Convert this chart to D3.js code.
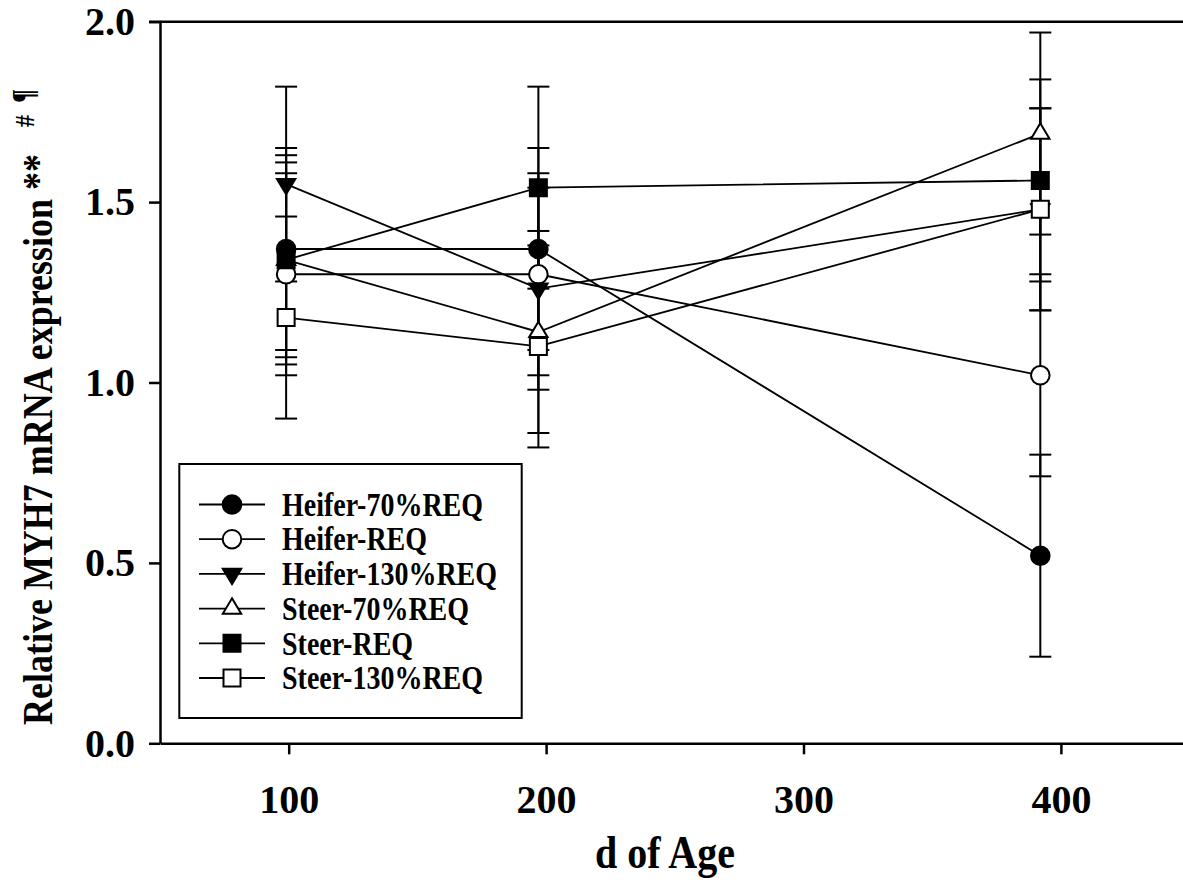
<!DOCTYPE html>
<html>
<head>
<meta charset="utf-8">
<script src="https://cdn.jsdelivr.net/npm/d3@7"></script>
<style>
  html, body { margin: 0; padding: 0; background: #fff; }
  svg { display: block; }
  text { font-family: "Liberation Serif", "Times New Roman", serif; font-weight: bold; fill: #000; }
</style>
</head>
<body>
<svg id="chart" width="1183" height="888"></svg>
<script>
// Age (days) at each sampling point
const ages = [99, 197, 392];

// Series names, in legend order
const seriesNames = ["Heifer-70%REQ", "Heifer-REQ", "Heifer-130%REQ", "Steer-70%REQ", "Steer-REQ", "Steer-130%REQ"];

// Mean relative MYH7 expression per series
const heifer70 = [1.37, 1.37, 0.52];
const heiferREQ = [1.30, 1.30, 1.02];
const heifer130 = [1.55, 1.26, 1.48];
const steer70 = [1.34, 1.14, 1.69];
const steerREQ = [1.34, 1.54, 1.56];
const steer130 = [1.18, 1.10, 1.48];

// Standard errors per series
const heifer70SE = [0.28, 0.28, 0.28];
const heiferREQSE = [0.28, 0.28, 0.28];
const heifer130SE = [0.27, 0.28, 0.28];
const steer70SE = [0.29, 0.28, 0.28];
const steerREQSE = [0.27, 0.28, 0.28];
const steer130SE = [0.28, 0.28, 0.28];

// Axis ticks
const xTicks = [100, 200, 300, 400];
const yTicks = [0, 0.5, 1.0, 1.5, 2.0];

const means = [heifer70, heiferREQ, heifer130, steer70, steerREQ, steer130];
const errors = [heifer70SE, heiferREQSE, heifer130SE, steer70SE, steerREQSE, steer130SE];
const markerShapes = ["circle", "circle", "triangleDown", "triangleUp", "square", "square"];
const markerFilled = [true, false, true, false, true, false];

const series = seriesNames.map((name, i) => ({
  name, shape: markerShapes[i], filled: markerFilled[i],
  points: ages.map((a, j) => ({ age: a, value: means[i][j], se: errors[i][j] }))
}));

// Title and legend glyphs are drawn slightly taller than the stock face
const glyphStretch = 1.18;

const svg = d3.select("#chart");

const x = d3.scaleLinear().domain([50, 450]).range([160, 1189.6]);
const y = d3.scaleLinear().domain([0, 2]).range([743.3, 21.7]);

// Marker path generator, centred on the data point
function markerPath(shape) {
  if (shape === "circle") {
    const r = 9.3;
    return `M${-r},0A${r},${r} 0 1,0 ${r},0A${r},${r} 0 1,0 ${-r},0Z`;
  }
  if (shape === "square") {
    const s = 8.5;
    return `M${-s},${-s}H${s}V${s}H${-s}Z`;
  }
  const w = 9.2, h = 15.4;
  if (shape === "triangleUp") {
    return `M0,${-2 * h / 3}L${w},${h / 3}L${-w},${h / 3}Z`;
  }
  return `M0,${2 * h / 3}L${w},${-h / 3}L${-w},${-h / 3}Z`;
}

function drawMarker(sel, s) {
  sel.append("path")
    .attr("d", markerPath(s.shape))
    .attr("fill", s.filled ? "#000" : "#fff")
    .attr("stroke", "#000")
    .attr("stroke-width", 2);
}

// Frame line along the top
svg.append("line")
  .attr("x1", 149).attr("x2", 1183)
  .attr("y1", y(2)).attr("y2", y(2))
  .attr("stroke", "#000").attr("stroke-width", 2.5);

// Y axis
const yAxis = svg.append("g")
  .attr("transform", `translate(${x(50)},0)`)
  .call(d3.axisLeft(y).tickValues(yTicks).tickFormat(d3.format(".1f")).tickSize(11).tickSizeOuter(0).tickPadding(14));

// X axis
const xAxis = svg.append("g")
  .attr("transform", `translate(0,${y(0)})`)
  .call(d3.axisBottom(x).tickValues(xTicks).tickFormat(d3.format("d")).tickSize(11).tickSizeOuter(0).tickPadding(30));

[yAxis, xAxis].forEach(g => {
  g.select(".domain").attr("stroke", "#000").attr("stroke-width", 2.5);
  g.selectAll(".tick line").attr("stroke", "#000").attr("stroke-width", 2.5);
  g.selectAll(".tick text")
    .style("font-family", '"Liberation Serif", "Times New Roman", serif')
    .style("font-weight", "bold")
    .style("font-size", "40px")
    .attr("fill", "#000");
});

// Error bars
const capHalf = 11;
const errG = svg.append("g");
series.forEach(s => {
  s.points.forEach(p => {
    const cx = x(p.age), top = y(p.value + p.se), bot = y(p.value - p.se);
    errG.append("line").attr("x1", cx).attr("x2", cx).attr("y1", top).attr("y2", bot)
      .attr("stroke", "#000").attr("stroke-width", 2);
    [top, bot].forEach(cy => {
      errG.append("line").attr("x1", cx - capHalf).attr("x2", cx + capHalf).attr("y1", cy).attr("y2", cy)
        .attr("stroke", "#000").attr("stroke-width", 2);
    });
  });
});

// Connecting lines and markers, one series at a time
const line = d3.line().x(d => x(d.age)).y(d => y(d.value));
series.forEach(s => {
  const g = svg.append("g");
  g.append("path").attr("d", line(s.points)).attr("fill", "none")
    .attr("stroke", "#000").attr("stroke-width", 1.8);
  s.points.forEach(p => {
    g.append("g").attr("transform", `translate(${x(p.age)},${y(p.value)})`).call(drawMarker, s);
  });
});

// Legend
const legend = svg.append("g");
legend.append("rect")
  .attr("x", 179.3).attr("y", 464).attr("width", 342.4).attr("height", 254)
  .attr("fill", "#fff").attr("stroke", "#000").attr("stroke-width", 2);
series.forEach((s, i) => {
  const ry = 504.5 + i * 34.7;
  const row = legend.append("g").attr("transform", `translate(0,${ry})`);
  row.append("line").attr("x1", 199).attr("x2", 265).attr("y1", 0).attr("y2", 0)
    .attr("stroke", "#000").attr("stroke-width", 1.8);
  row.append("g").attr("transform", "translate(232,0)").call(drawMarker, s);
  row.append("text")
    .attr("transform", `translate(282,0) scale(1,${glyphStretch})`)
    .attr("dy", "0.34em")
    .style("font-size", "28px").text(s.name);
});

// Axis titles
svg.append("text")
  .attr("transform", `translate(665,868) scale(1,${glyphStretch})`)
  .attr("text-anchor", "middle")
  .style("font-size", "40px")
  .text("d of Age");

const yTitle = svg.append("text")
  .attr("transform", `translate(52,725) rotate(-90) scale(1,${glyphStretch})`)
  .attr("text-anchor", "start")
  .style("font-size", "36px");
yTitle.append("tspan").text("Relative MYH7 mRNA expression ");
yTitle.append("tspan").text("**");
yTitle.append("tspan").attr("dx", 27).attr("dy", -15).style("font-size", "24px").text("#");
yTitle.append("tspan").attr("dx", 12).style("font-size", "26px").text("¶");
</script>
</body>
</html>
